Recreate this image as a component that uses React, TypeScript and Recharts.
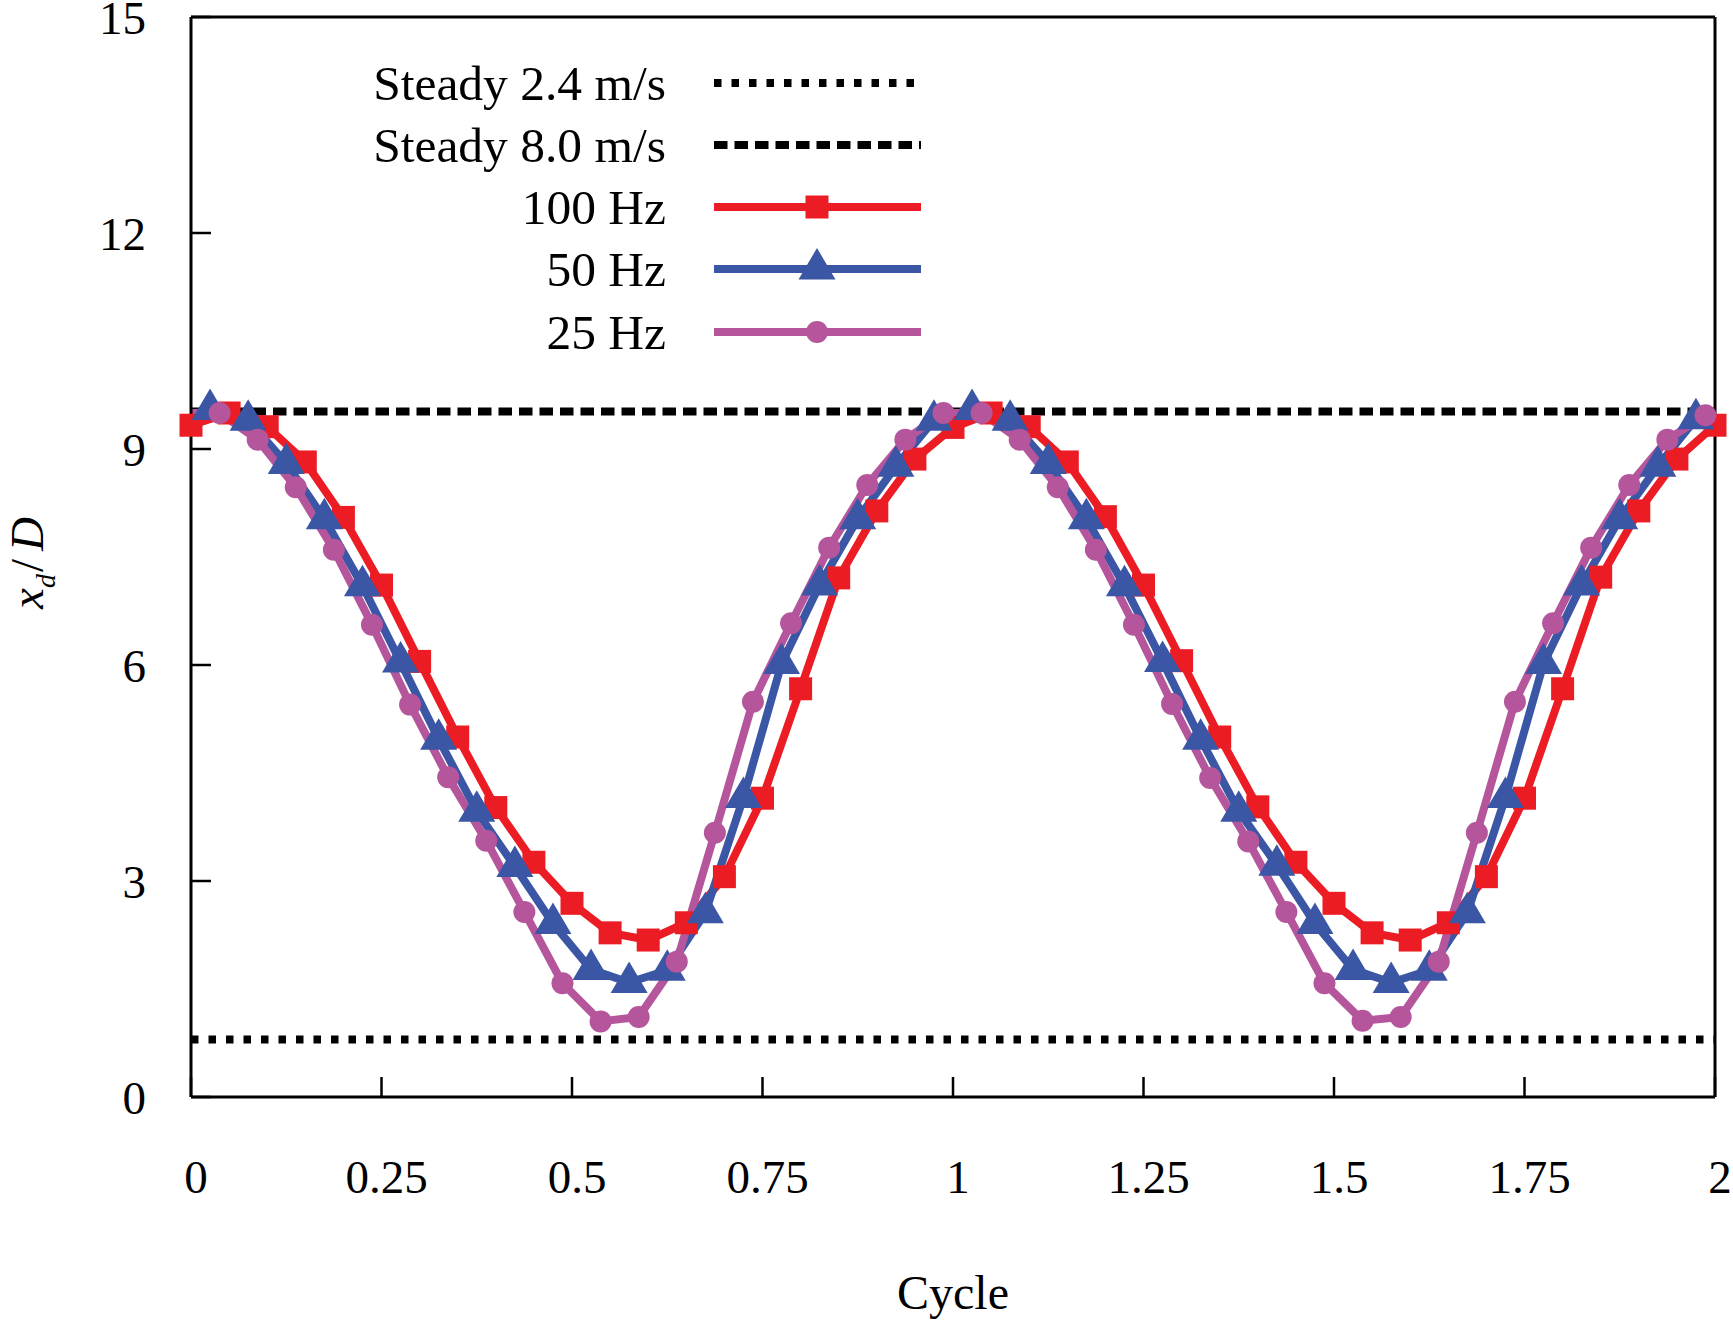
import React from "react";
import { LineChart, Line, XAxis, YAxis, Legend } from "recharts";

const FONT = '"Liberation Serif", "Times New Roman", Times, serif';

const RED = "#EC1C24";
const BLUE = "#3A56A5";
const PURPLE = "#B5559C";

// every series is sampled every 0.05 cycle, each with its own phase
const STEP = 0.05;

// 100 Hz, first sample at x = 0
const hz100Start = 0;
const hz100Values = [
  9.33, 9.5, 9.31, 8.82, 8.05, 7.11, 6.05, 5.0, 4.02, 3.26,
  2.69, 2.28, 2.18, 2.42, 3.06, 4.15, 5.67, 7.21, 8.14, 8.86,
  9.3, 9.5, 9.31, 8.82, 8.06, 7.11, 6.06, 5.0, 4.03, 3.26,
  2.69, 2.28, 2.18, 2.42, 3.06, 4.15, 5.67, 7.22, 8.14, 8.86,
  9.33,
];

// 50 Hz, first sample at x = -0.025 (outside the frame)
const hz50Start = -0.025;
const hz50Values = [
  9.4,
  9.55, 9.4, 8.8, 8.03, 7.1, 6.04, 4.97, 3.97, 3.2, 2.41,
  1.77, 1.59, 1.76, 2.56, 4.16, 6.02, 7.11, 8.03, 8.76, 9.4,
  9.55, 9.4, 8.8, 8.03, 7.1, 6.05, 4.97, 3.97, 3.22, 2.41,
  1.77, 1.59, 1.76, 2.56, 4.16, 6.02, 7.11, 8.03, 8.76, 9.42,
];

// 25 Hz, first sample at x = -0.0125 (outside the frame)
const hz25Start = -0.0125;
const hz25Values = [
  9.5,
  9.5, 9.13, 8.47, 7.6, 6.56, 5.45, 4.44, 3.56, 2.57, 1.58,
  1.05, 1.11, 1.88, 3.67, 5.49, 6.58, 7.63, 8.5, 9.13, 9.5,
  9.5, 9.13, 8.47, 7.6, 6.56, 5.46, 4.43, 3.55, 2.57, 1.58,
  1.06, 1.11, 1.88, 3.67, 5.49, 6.58, 7.63, 8.5, 9.13, 9.47,
];

const steady24 = 0.8;
const steady80 = 9.52;

const xTicks = [0, 0.25, 0.5, 0.75, 1, 1.25, 1.5, 1.75, 2];
const yTicks = [0, 3, 6, 9, 12, 15];

const toPoints = (start: number, values: number[]) =>
  values.map((y, i) => ({ x: +(start + i * STEP).toFixed(4), y }));
const inFrame = (p: { x: number }) => p.x >= 0 && p.x <= 2;

const hz100 = toPoints(hz100Start, hz100Values);
const hz50 = toPoints(hz50Start, hz50Values);
const hz25 = toPoints(hz25Start, hz25Values);

const steady24Line = [
  { x: 0, y: steady24 },
  { x: 2, y: steady24 },
];
const steady80Line = [
  { x: 0, y: steady80 },
  { x: 2, y: steady80 },
];

const DOTTED = "7.5 10";
const DASHED = "13.5 7";
const LINE_W = 8;

function SquareDot(props: any) {
  const { cx, cy, index } = props;
  if (cx == null || cy == null) return null;
  return (
    <rect key={`sq-${index}`} x={cx - 11.5} y={cy - 11.5} width={23} height={23} fill={RED} />
  );
}

function TriangleDot(props: any) {
  const { cx, cy, index } = props;
  if (cx == null || cy == null) return null;
  const pts = `${cx},${cy - 21} ${cx - 18.5},${cy + 10.5} ${cx + 18.5},${cy + 10.5}`;
  return <polygon key={`tr-${index}`} points={pts} fill={BLUE} />;
}

function CircleDot(props: any) {
  const { cx, cy, index } = props;
  if (cx == null || cy == null) return null;
  return <circle key={`ci-${index}`} cx={cx} cy={cy} r={11} fill={PURPLE} />;
}

const legendRows = [
  { label: "Steady 2.4 m/s", y: 83, color: "#000", dash: DOTTED, width: 8, marker: null },
  { label: "Steady 8.0 m/s", y: 145, color: "#000", dash: DASHED, width: 8, marker: null },
  { label: "100 Hz", y: 207, color: RED, dash: undefined, width: LINE_W, marker: "square" },
  { label: "50 Hz", y: 269, color: BLUE, dash: undefined, width: LINE_W, marker: "triangle" },
  { label: "25 Hz", y: 332, color: PURPLE, dash: undefined, width: LINE_W, marker: "circle" },
];

function LegendBox() {
  return (
    <svg width={1000} height={380} style={{ display: "block" }}>
      {legendRows.map((row) => (
        <g key={row.label}>
          <text
            x={666}
            y={row.y + 17}
            textAnchor="end"
            fontFamily={FONT}
            fontSize={49.5}
            fill="#000"
          >
            {row.label}
          </text>
          <line
            x1={714}
            x2={921}
            y1={row.y}
            y2={row.y}
            stroke={row.color}
            strokeWidth={row.width}
            strokeDasharray={row.dash}
          />
          {row.marker === "square" && <SquareDot cx={817} cy={row.y} index={0} />}
          {row.marker === "triangle" && <TriangleDot cx={817} cy={row.y} index={0} />}
          {row.marker === "circle" && <CircleDot cx={817} cy={row.y} index={0} />}
        </g>
      ))}
    </svg>
  );
}

const renderXLabel = (props: any) => {
  const vb = props.viewBox;
  return (
    <text
      x={vb.x + vb.width / 2}
      y={vb.y + 212}
      textAnchor="middle"
      fontFamily={FONT}
      fontSize={48}
      fill="#000"
    >
      Cycle
    </text>
  );
};

const renderYLabel = (props: any) => {
  const vb = props.viewBox;
  const cx = 43;
  const cy = vb.y + vb.height / 2 + 6;
  return (
    <text
      x={cx}
      y={cy}
      transform={`rotate(-90 ${cx} ${cy})`}
      textAnchor="middle"
      fontFamily={FONT}
      fontSize={47}
      fill="#000"
    >
      <tspan fontStyle="italic">x</tspan>
      <tspan fontStyle="italic" fontSize={28} dy={12}>d</tspan>
      <tspan dy={-12} dx={2}>/</tspan>
      <tspan fontStyle="italic" dx={8}>D</tspan>
    </text>
  );
};

const axisLine = { stroke: "#000", strokeWidth: 3 };
const tickLine = { stroke: "#000", strokeWidth: 2.5 };
const tickFont = { fill: "#000", fontSize: 47, fontFamily: FONT };

export default function App() {
  return (
    <div style={{ position: "absolute", left: 0, top: 0, width: 1733, height: 1320, background: "#fff" }}>
      <LineChart width={1733} height={1320} margin={{ top: 16, right: 17, bottom: 0, left: 0 }}>
        {/* bottom axis clips the lines (some samples sit just outside 0..2) */}
        <XAxis
          xAxisId="bottom"
          type="number"
          dataKey="x"
          domain={[0, 2]}
          allowDataOverflow
          ticks={xTicks}
          interval={0}
          height={223}
          tickSize={-20}
          tickMargin={83}
          axisLine={axisLine}
          tickLine={tickLine}
          tick={{ ...tickFont, dx: 5 }}
          label={renderXLabel}
        />
        {/* top axis: mirrored ticks, also carries the markers unclipped */}
        <XAxis
          xAxisId="top"
          orientation="top"
          type="number"
          dataKey="x"
          domain={[0, 2]}
          ticks={xTicks}
          interval={0}
          height={1}
          tickSize={-20}
          tick={false}
          axisLine={axisLine}
          tickLine={tickLine}
        />
        <YAxis
          yAxisId="left"
          type="number"
          domain={[0, 15]}
          ticks={yTicks}
          interval={0}
          width={191}
          tickSize={-20}
          tickMargin={65}
          axisLine={axisLine}
          tickLine={tickLine}
          tick={tickFont}
          label={renderYLabel}
        />
        <YAxis
          yAxisId="right"
          orientation="right"
          type="number"
          domain={[0, 15]}
          allowDataOverflow
          ticks={yTicks}
          interval={0}
          width={1}
          tickSize={-20}
          tick={false}
          axisLine={axisLine}
          tickLine={tickLine}
        />

        <Legend
          layout="vertical"
          align="center"
          verticalAlign="middle"
          wrapperStyle={{ left: 0, top: 0, width: 1000, height: 380 }}
          content={() => <LegendBox />}
        />

        <Line
          xAxisId="bottom"
          yAxisId="left"
          data={steady24Line}
          dataKey="y"
          name="Steady 2.4 m/s"
          stroke="#000"
          strokeWidth={8}
          strokeDasharray={DOTTED}
          dot={false}
          activeDot={false}
          isAnimationActive={false}
        />
        <Line
          xAxisId="bottom"
          yAxisId="left"
          data={steady80Line}
          dataKey="y"
          name="Steady 8.0 m/s"
          stroke="#000"
          strokeWidth={8}
          strokeDasharray={DASHED}
          dot={false}
          activeDot={false}
          isAnimationActive={false}
        />

        <Line
          xAxisId="bottom"
          yAxisId="left"
          data={hz100}
          dataKey="y"
          name="100 Hz"
          stroke={RED}
          strokeWidth={LINE_W}
          strokeLinejoin="round"
          dot={false}
          activeDot={false}
          isAnimationActive={false}
        />
        <Line
          xAxisId="top"
          yAxisId="left"
          data={hz100.filter(inFrame)}
          dataKey="y"
          stroke="none"
          legendType="none"
          dot={SquareDot}
          activeDot={false}
          isAnimationActive={false}
        />

        <Line
          xAxisId="bottom"
          yAxisId="left"
          data={hz50}
          dataKey="y"
          name="50 Hz"
          stroke={BLUE}
          strokeWidth={LINE_W}
          strokeLinejoin="round"
          dot={false}
          activeDot={false}
          isAnimationActive={false}
        />
        <Line
          xAxisId="top"
          yAxisId="left"
          data={hz50.filter(inFrame)}
          dataKey="y"
          stroke="none"
          legendType="none"
          dot={TriangleDot}
          activeDot={false}
          isAnimationActive={false}
        />

        <Line
          xAxisId="bottom"
          yAxisId="left"
          data={hz25}
          dataKey="y"
          name="25 Hz"
          stroke={PURPLE}
          strokeWidth={LINE_W}
          strokeLinejoin="round"
          dot={false}
          activeDot={false}
          isAnimationActive={false}
        />
        <Line
          xAxisId="top"
          yAxisId="left"
          data={hz25.filter(inFrame)}
          dataKey="y"
          stroke="none"
          legendType="none"
          dot={CircleDot}
          activeDot={false}
          isAnimationActive={false}
        />
      </LineChart>
    </div>
  );
}
